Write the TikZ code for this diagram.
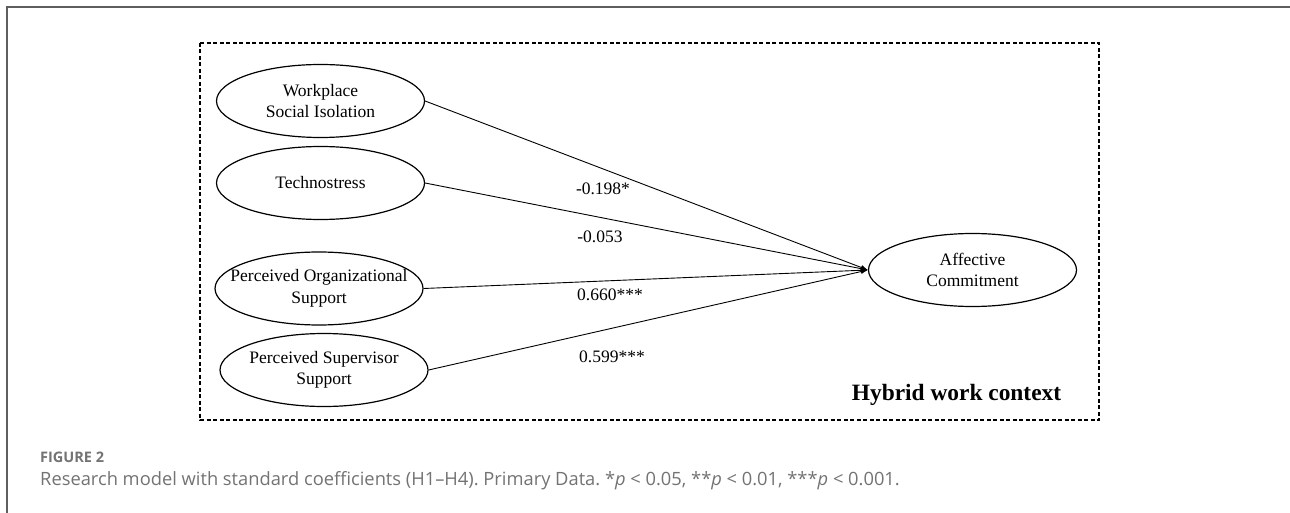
\documentclass[tikz,border=0pt]{standalone}
\usepackage{fontspec}
\setmainfont{Liberation Serif}
\newfontfamily\capfont[Ligatures=TeX]{Open Sans}
\usetikzlibrary{shapes.geometric,arrows.meta}
\definecolor{capgray}{RGB}{115,115,115}
\definecolor{framegray}{RGB}{95,95,95}
\frenchspacing
\tikzset{
  latent/.style={ellipse, draw, line width=1.2pt, minimum width=208pt, minimum height=73pt, inner sep=0pt},
  ltext/.style={align=center, inner sep=0pt, font=\fontsize{17.5}{21.5}\selectfont},
  path/.style={line width=0.9pt, -{Latex[length=7pt,width=5pt]}},
  coef/.style={font=\fontsize{17.5}{21}\selectfont, inner sep=0pt},
  frame/.style={draw=framegray, line width=1.6pt},
  ctx/.style={draw, line width=1.2pt, dash pattern=on 4pt off 2.5pt}
}
\begin{document}
\begin{tikzpicture}[x=1pt,y=-1pt]
\useasboundingbox (0,0) rectangle (1290,513);
\fill[white] (0,0) rectangle (1290,513);
\draw[frame] (7,513) -- (7,7) -- (1290,7);
\draw[ctx] (200,43) rectangle (1099,420);
\node[latent] (wsi) at (320.5,101) {};
\node[ltext] (wsit) at (wsi.center) {Workplace\\Social Isolation};
\node[latent] (tech) at (320.5,183) {};
\node[ltext] (techt) at (tech.center) {Technostress};
\node[latent] (pos) at (319,288.5) {};
\node[ltext] (post) at (pos.center) {Perceived Organizational\\Support};
\node[latent] (pss) at (324,370) {};
\node[ltext] (psst) at (pss.center) {Perceived Supervisor\\Support};
\node[latent] (ac) at (972.5,270) {};
\node[ltext] (act) at (ac.center) {Affective\\Commitment};
\draw[path] (wsi.east) -- (ac.west);
\draw[path] (tech.east) -- (ac.west);
\draw[path] (pos.east) -- (ac.west);
\draw[path] (pss.east) -- (ac.west);
\node[coef] (c1) at (603,189) {-0.198*};
\node[coef] (c2) at (600,237) {-0.053};
\node[coef] (c3) at (610,295) {0.660***};
\node[coef] (c4) at (612,357) {0.599***};
\node[inner sep=0pt, font=\fontsize{23.4}{28}\selectfont\bfseries] (hw) at (956.5,395) {Hybrid work context};
\node[anchor=base west, inner sep=0pt, text=capgray, font=\capfont\fontsize{14.5}{16}\selectfont\bfseries] (fig) at (40,462) {FIGURE 2};
\node[anchor=base west, inner sep=0pt, text=capgray, font=\capfont\fontsize{18.3}{21}\selectfont] (cap) at (40,485) {Research model with standard coefficients (H1–H4). Primary Data. *\textit{p} < 0.05, **\textit{p} < 0.01, ***\textit{p} < 0.001.};
\end{tikzpicture}
\end{document}
